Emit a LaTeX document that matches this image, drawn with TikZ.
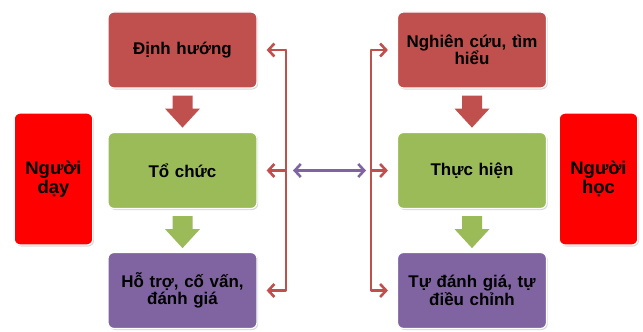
\documentclass[tikz,border=0pt]{standalone}
\usepackage{fontspec}
\setmainfont{Liberation Sans}
\usetikzlibrary{arrows.meta,calc,shadows}
\definecolor{brick}{HTML}{C0504D}
\definecolor{leaf}{HTML}{9BBB59}
\definecolor{plum}{HTML}{8064A2}
\definecolor{vivid}{HTML}{FF0000}

\begin{document}
\begin{tikzpicture}[
    x=1bp, y=1bp,
    line width=2.6bp,
    every node/.style={font=\bfseries\fontsize{17}{17.5}\selectfont, align=center},
    box/.style={draw=white, line width=1.2bp, rounded corners=6bp,
      minimum width=149bp, minimum height=76bp, text width=140bp,
      drop shadow={opacity=0.3, shadow xshift=1.2bp, shadow yshift=-1.5bp}},
    role/.style={box, fill=vivid, minimum width=77bp, minimum height=132bp, text width=72bp,
      font=\bfseries\fontsize{18.5}{19}\selectfont},
    link/.style={draw=brick, -{Straight Barb[length=6bp,width=13bp]}, shorten >=9bp}
  ]
    \useasboundingbox (0,0) rectangle (643,331);
    \node[role] (day) at (53.5,152) {Người\\ dạy};
    \node[role] (hoc) at (598.5,152) {Người\\ học};
    \node[box, fill=brick] (dinh) at (182.5,281) {Định hướng};
    \node[box, fill=leaf] (tochuc) at (182.5,160.5) {Tổ chức};
    \node[box, fill=plum] (hotro) at (182.5,40.5) {Hỗ trợ, cố vấn,\\ đánh giá};
    \node[box, fill=brick] (nghien) at (472,281) {Nghiên cứu, tìm\\ hiểu};
    \node[box, fill=leaf] (thuc) at (472,160.5) {Thực hiện};
    \node[box, fill=plum] (tudanh) at (472,40.5) {Tự đánh giá, tự\\ điều chỉnh};
    \foreach \a/\c in {dinh/brick, tochuc/leaf, nghien/brick, thuc/leaf}
      \fill[\c] ($(\a.south)+(-10,-7)$) -- ++(20,0) -- ++(0,-13) -- ++(7.5,0)
        -- ++(-17.5,-19) -- ++(-17.5,19) -- ++(7.5,0) -- cycle;
    \coordinate (lb) at (286,160.5);
    \coordinate (rb) at (371,160.5);
    \draw[brick, line cap=round] (lb |- dinh) -- (lb |- hotro);
    \draw[brick, line cap=round] (rb |- nghien) -- (rb |- tudanh);
    \draw[link] (lb |- dinh) -- (dinh.east);
    \draw[link] (lb) -- (tochuc.east);
    \draw[link] (lb |- hotro) -- (hotro.east);
    \draw[link] (rb |- nghien) -- (nghien.west);
    \draw[link] (rb) -- (thuc.west);
    \draw[link] (rb |- tudanh) -- (tudanh.west);
    \draw[plum, {Straight Barb[length=6bp,width=13bp]}-{Straight Barb[length=6bp,width=13bp]},
      shorten <=7bp, shorten >=5bp] (lb) -- (rb);
  \end{tikzpicture}
\end{document}
